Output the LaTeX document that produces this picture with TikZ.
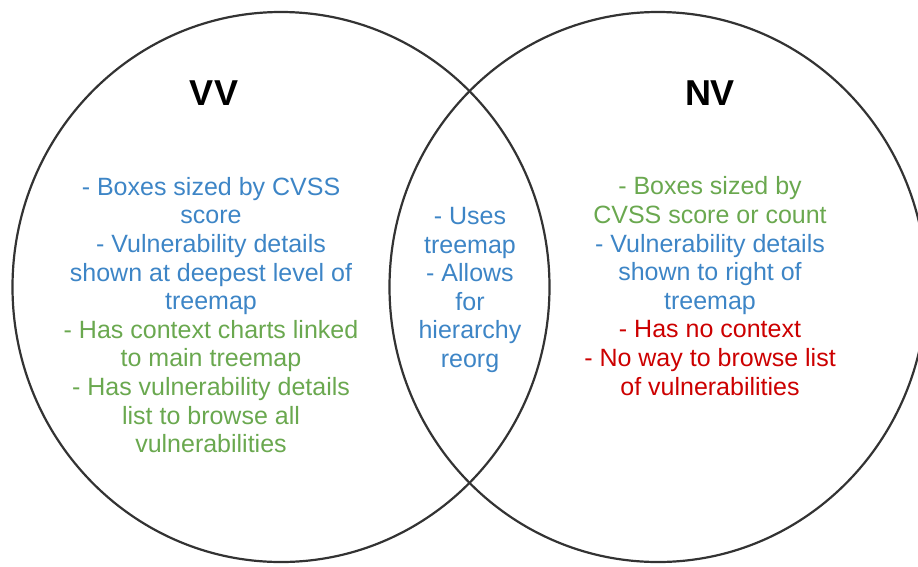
\documentclass[tikz,border=0pt]{standalone}
\usepackage{fontspec}
\setmainfont{Liberation Sans}
\usetikzlibrary{shapes,positioning}

\definecolor{vvblue}{HTML}{3D85C6}
\definecolor{vvgreen}{HTML}{6AA84F}
\definecolor{vvred}{HTML}{CC0000}
\definecolor{ringgray}{HTML}{333333}

\begin{document}
\begin{tikzpicture}[x=1pt, y=-1pt]
	\tikzset{SetStyle/.style = {
			shape=ellipse,
			draw=ringgray,
			line width=2.2pt,
			minimum width=537pt,
			minimum height=550pt,
			inner sep=0pt
	}}
	\tikzset{TitleStyle/.style = {
			font=\fontsize{36}{40}\selectfont\bfseries
	}}
	\tikzset{ListStyle/.style = {
			align=center,
			inner sep=0pt,
			font=\fontsize{25}{28.6}\selectfont
	}}
	\clip (0,0) rectangle (918,566);
	\node[SetStyle] (vv) at (281,287) {};
	\node[SetStyle] (nv) at (658,287) {};
	
	\node[TitleStyle] (vvtitle) at (214,93) {VV};
	\node[TitleStyle] (nvtitle) at (710,93) {NV};
	
	\node[ListStyle] (vvlist) at (211,315) {%
		\textcolor{vvblue}{- Boxes sized by CVSS}\\
		\textcolor{vvblue}{score}\\
		\textcolor{vvblue}{- Vulnerability details}\\
		\textcolor{vvblue}{shown at deepest level of}\\
		\textcolor{vvblue}{treemap}\\
		\textcolor{vvgreen}{- Has context charts linked}\\
		\textcolor{vvgreen}{to main treemap}\\
		\textcolor{vvgreen}{- Has vulnerability details}\\
		\textcolor{vvgreen}{list to browse all}\\
		\textcolor{vvgreen}{vulnerabilities}};
	\node[ListStyle] (both) at (470,290) {%
		\textcolor{vvblue}{- Uses}\\
		\textcolor{vvblue}{treemap}\\
		\textcolor{vvblue}{- Allows}\\
		\textcolor{vvblue}{for}\\
		\textcolor{vvblue}{hierarchy}\\
		\textcolor{vvblue}{reorg}};
	\node[ListStyle] (nvlist) at (710,286) {%
		\textcolor{vvgreen}{- Boxes sized by}\\
		\textcolor{vvgreen}{CVSS score or count}\\
		\textcolor{vvblue}{- Vulnerability details}\\
		\textcolor{vvblue}{shown to right of}\\
		\textcolor{vvblue}{treemap}\\
		\textcolor{vvred}{- Has no context}\\
		\textcolor{vvred}{- No way to browse list}\\
		\textcolor{vvred}{of vulnerabilities}};
\end{tikzpicture}
\end{document}
